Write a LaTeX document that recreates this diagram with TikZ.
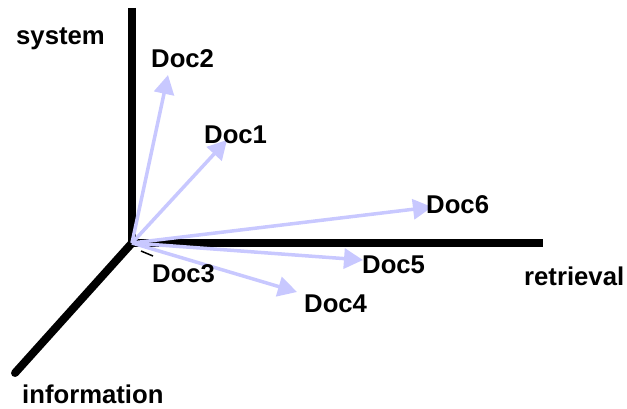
\documentclass[tikz,border=0pt]{standalone}
\usepackage{fontspec}
\setmainfont{Liberation Sans}
\usetikzlibrary{arrows.meta}
\definecolor{vecblue}{RGB}{200,200,255}
\tikzset{
  axis/.style={line width=8pt},
  docvec/.style={vecblue,line width=3.5pt,-{Triangle[length=19pt,width=20pt]}},
  lbl/.style={anchor=base west,inner sep=0pt,font=\bfseries\fontsize{25.7}{30}\selectfont}
}
\begin{document}
\begin{tikzpicture}[x=1pt,y=1pt]
\useasboundingbox (0,0) rectangle (627,408);

\coordinate (o) at (132,165);
\coordinate (sys) at (132,400);
\coordinate (ret) at (543,165);
\coordinate (inf) at (15,35);

\draw[axis] (sys) -- (132,161);
\draw[axis] (128,165) -- (ret);
\draw[axis,line cap=round] (o) -- (inf);

\coordinate (d1) at (227,268);
\coordinate (d2) at (168,333);
\coordinate (d3) at (153,152);
\coordinate (d4) at (297,116);
\coordinate (d5) at (363,148);
\coordinate (d6) at (432,201);

\draw[docvec] (o) -- (d2);
\draw[docvec] (o) -- (d1);
\draw[docvec] (o) -- (d6);
\draw[docvec] (o) -- (d5);
\draw[docvec] (o) -- (d4);
\draw[line width=1.5pt] (141,157) -- (d3);

\node[lbl] (system) at (16,363) {system};
\node[lbl] (retrieval) at (524,123) {retrieval};
\node[lbl] (information) at (22,5) {information};

\node[lbl] (doc1) at (204,265) {Doc1};
\node[lbl] (doc2) at (151,341) {Doc2};
\node[lbl] (doc3) at (152,126) {Doc3};
\node[lbl] (doc4) at (304,96) {Doc4};
\node[lbl] (doc5) at (362,135) {Doc5};
\node[lbl] (doc6) at (426,195) {Doc6};
\end{tikzpicture}
\end{document}
